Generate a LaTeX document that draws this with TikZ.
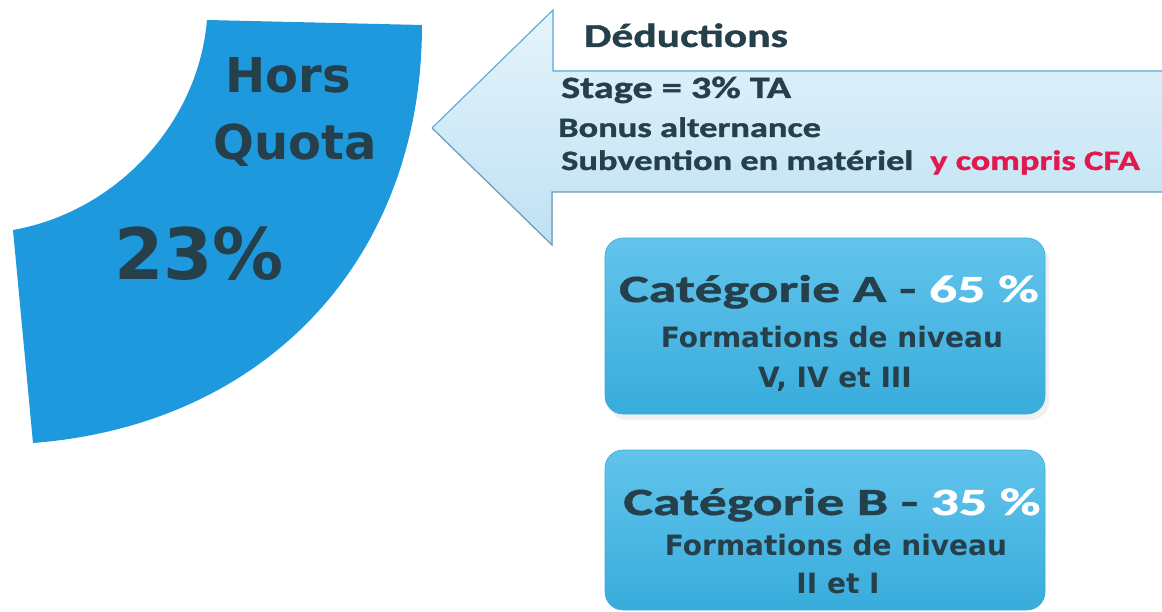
\documentclass[tikz,border=0pt]{standalone}
\usepackage{fontspec}
\setmainfont{DejaVu Sans}
\newfontfamily\calib[FakeStretch=1.45, FakeBold=1.2]{Carlito}
\newfontfamily\calibn[FakeStretch=1.3, FakeBold=1.2]{Carlito}
\definecolor{quotablue}{HTML}{1E99DE}
\definecolor{ink}{HTML}{25404B}
\definecolor{arrowtop}{HTML}{E6F4FB}
\definecolor{arrowbot}{HTML}{BEE1F3}
\definecolor{arrowedge}{HTML}{5FAEDD}
\definecolor{boxtop}{HTML}{62C4EC}
\definecolor{boxbot}{HTML}{38ACDC}
\definecolor{cfared}{HTML}{E0194E}
\tikzset{
    bigtext/.style={font=\fontsize{48}{50}\selectfont\bfseries, text=ink, inner sep=0pt, anchor=base},
    headtext/.style={font=\calibn\fontsize{33.5}{35}\selectfont\bfseries, text=ink, inner sep=0pt, anchor=base},
    itemtext/.style={font=\calibn\fontsize{28}{30}\selectfont\bfseries, text=ink, inner sep=0pt, anchor=base west},
    cattext/.style={font=\calib\fontsize{38.5}{40}\selectfont\bfseries, text=ink, inner sep=0pt, anchor=base},
    leveltext/.style={font=\fontsize{28}{30}\selectfont\bfseries, text=ink, inner sep=0pt, anchor=base},
    catbox/.style={rounded corners=18pt, top color=boxtop, bottom color=boxbot, draw=boxbot, line width=0.6pt},
}

\begin{document}
\begin{tikzpicture}[x=1pt, y=-1pt]
    \useasboundingbox (0, 0) rectangle (1162, 612);

    % quarter ring
    \fill[quotablue] (207, 20) -- (422, 25)
        .. controls (422, 260) and (265, 425) .. (33, 443)
        -- (13, 230)
        .. controls (115, 212) and (198, 125) .. (207, 20) -- cycle;
    \node[bigtext] (hors) at (288, 93) {Hors};
    \node[bigtext] (quota) at (295, 160) {Quota};
    \node[bigtext, font=\fontsize{71}{74}\selectfont\bfseries] (pct) at (199, 280) {23\%};

    % arrow
    \fill[top color=arrowtop, bottom color=arrowbot] (1162, 71) -- (553, 71) -- (553, 10) -- (432, 128)
        -- (552, 245) -- (552, 192) -- (1162, 192) -- cycle;
    \draw[arrowedge, line width=1.2pt] (1162, 71) -- (553, 71) -- (553, 10) -- (432, 128);
    \draw[arrowedge!60!gray, line width=1.2pt] (432, 128) -- (552, 245) -- (552, 192) -- (1162, 192);

    \node[headtext] (deductions) at (686, 47) {Déductions};
    \node[itemtext, font=\calibn\fontsize{31}{33}\selectfont\bfseries] (stage) at (561, 98) {Stage = 3\% TA};
    \node[itemtext] (bonus) at (558, 137) {Bonus alternance};
    \node[itemtext] (subvention) at (561, 170) {Subvention en matériel};
    \node[itemtext, text=cfared] (cfa) at (930, 170) {y compris CFA};

    % categories
    \fill[gray!12, rounded corners=18pt] (609, 244) rectangle (1049, 420);
    \path[catbox] (605, 238) rectangle (1045, 414);
    \node[cattext] (catA) at (829, 302) {Catégorie A - \textcolor{white}{65 \%}};
    \node[leveltext] (formA) at (832, 347) {Formations de niveau};
    \node[leveltext] (nivA) at (835, 387) {V, IV et III};

    \path[catbox] (605, 450) rectangle (1045, 610);
    \node[cattext] (catB) at (832, 515) {Catégorie B - \textcolor{white}{35 \%}};
    \node[leveltext] (formB) at (836, 555) {Formations de niveau};
    \node[leveltext] (nivB) at (838, 593) {II et I};
\end{tikzpicture}
\end{document}
